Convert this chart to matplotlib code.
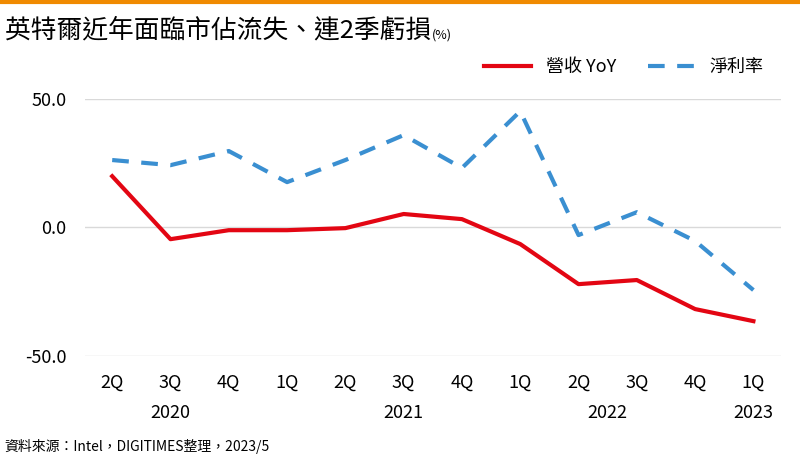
import matplotlib.pyplot as plt
from matplotlib.lines import Line2D

plt.rcParams['font.family'] = ['Noto Sans CJK TC', 'DejaVu Sans']

quarters = ['2Q', '3Q', '4Q', '1Q', '2Q', '3Q', '4Q', '1Q', '2Q', '3Q', '4Q', '1Q']
years = ['2020', '2021', '2022', '2023']
year_pos = [1, 5, 8.5, 11]
revenue_yoy = [19.8, -4.7, -1.2, -1.2, -0.4, 5.1, 3.1, -6.6, -22.2, -20.6, -31.9, -36.6]
net_margin = [26.1, 24.1, 29.6, 17.5, 26.1, 35.8, 23.0, 45.1, -3.1, 5.8, -5.4, -24.5]

fig = plt.figure(figsize=(8, 4.63), dpi=100)
ax = fig.add_axes([0.106, 0.232, 0.87, 0.555])
x = range(len(quarters))
ax.plot(x, revenue_yoy, color='#e30613', lw=3, solid_joinstyle='round')
ax.plot(x, net_margin, color='#3a8fd1', lw=3, dashes=(4, 3))

ax.set_xlim(-0.47, 11.47)
ax.set_ylim(-50, 50)
ax.set_yticks([-50, 0, 50])
ax.set_yticklabels(['-50.0', '0.0', '50.0'], fontsize=13)
ax.grid(axis='y', color='#d9d9d9', lw=1)
ax.set_axisbelow(True)
for s in ax.spines.values():
    s.set_visible(False)
ax.tick_params(length=0, pad=13)
ax.set_xticks(list(x))
ax.set_xticklabels(quarters, fontsize=13)
for yr, p in zip(years, year_pos):
    ax.text(p, -72.5, yr, ha='center', va='center', fontsize=13)

handles = [Line2D([], [], color='#e30613', lw=3),
           Line2D([], [], color='#3a8fd1', lw=3, dashes=(4, 3))]
fig.legend(handles, ['營收 YoY', '淨利率'], loc='center right', bbox_to_anchor=(0.975, 0.855),
           ncol=2, frameon=False, fontsize=13, handlelength=2.6, columnspacing=1.8)

fig.add_artist(Line2D([0, 1], [0.996, 0.996], color='#f08a00', lw=3, transform=fig.transFigure))
fig.text(0.006, 0.935, '英特爾近年面臨市佔流失、連2季虧損', fontsize=18.5, va='center')
fig.text(0.54, 0.925, '(%)', fontsize=9, va='center')
fig.text(0.006, 0.035, '資料來源：Intel，DIGITIMES整理，2023/5', fontsize=10, va='center')

fig.savefig('out.png', dpi=100)
